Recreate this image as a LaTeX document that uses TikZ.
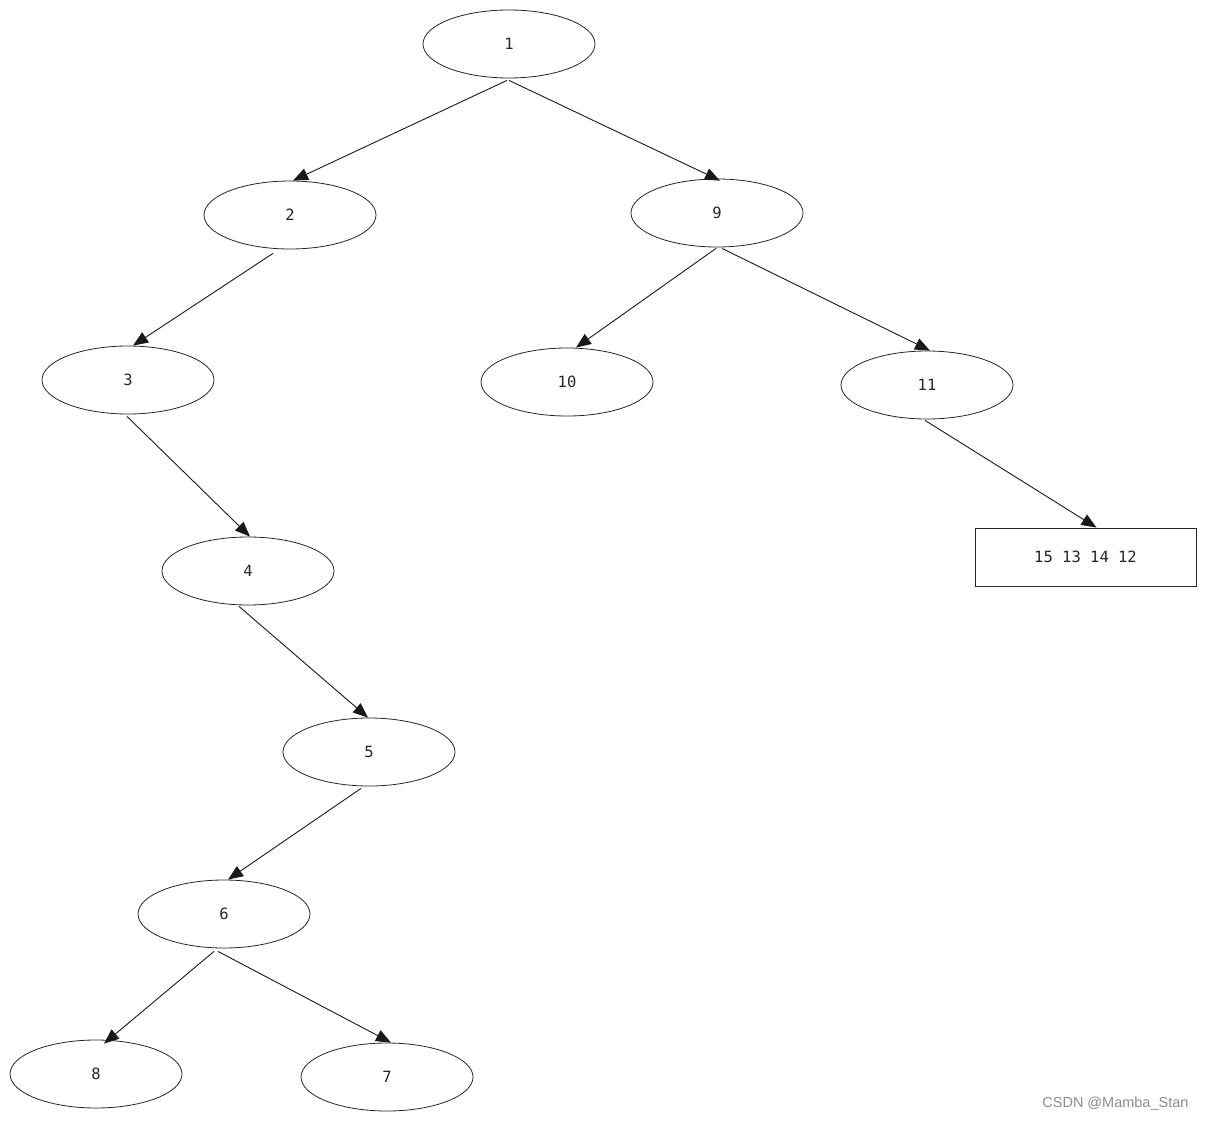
\documentclass[tikz,border=0pt]{standalone}
\usepackage{fontspec}
\setmonofont{DejaVu Sans Mono}
\newfontfamily\wmfont{Liberation Sans}
\usetikzlibrary{shapes.geometric,arrows.meta}
\begin{document}
\begin{tikzpicture}[x=1pt,y=-1pt,
  tnode/.style={ellipse,draw=black!85,line width=0.8pt,minimum width=172pt,minimum height=68pt,inner sep=0pt,font=\ttfamily\fontsize{15.5}{17}\selectfont,text=black!85},
  tbox/.style={rectangle,draw=black!85,line width=0.8pt,minimum width=221pt,minimum height=58pt,inner sep=0pt,font=\ttfamily\fontsize{15.5}{17}\selectfont,text=black!85},
  edge/.style={draw=black!90,line width=0.9pt,-{Triangle[length=15pt,width=12pt]}}]
\useasboundingbox (0,0) rectangle (1205,1121);
\node[tnode] (n1) at (509,44) {1};
\node[tnode] (n2) at (290,215) {2};
\node[tnode] (n9) at (717,213) {9};
\node[tnode] (n3) at (128,380) {3};
\node[tnode] (n10) at (567,382) {10};
\node[tnode] (n11) at (927,385) {11};
\node[tnode] (n4) at (248,571) {4};
\node[tnode] (n5) at (369,752) {5};
\node[tnode] (n6) at (224,914) {6};
\node[tnode] (n8) at (96,1074) {8};
\node[tnode] (n7) at (387,1077) {7};
\node[tbox] (nb) at (1085.5,557) {15 13 14 12};
\draw[edge] ([xshift=-2pt,yshift=-2pt]n1.south) -- ([xshift=3pt]n2.north);
\draw[edge] ([yshift=-2pt]n1.south) -- ([xshift=3pt,yshift=-2pt]n9.north);
\draw[edge] ([xshift=-17pt,yshift=-4pt]n2.south) -- ([xshift=5pt,yshift=0pt]n3.north);
\draw[edge] ([xshift=-1pt,yshift=-2pt]n3.south) -- ([xshift=2pt]n4.north);
\draw[edge] ([xshift=-9pt,yshift=-1pt]n4.south) -- ([xshift=-1pt]n5.north);
\draw[edge] ([xshift=-8pt,yshift=-2pt]n5.south) -- ([xshift=4pt]n6.north);
\draw[edge] ([xshift=-10pt,yshift=-3pt]n6.south) -- ([xshift=8pt,yshift=-4pt]n8.north);
\draw[edge] ([xshift=-6pt,yshift=-3pt]n6.south) -- ([xshift=4pt,yshift=0pt]n7.north);
\draw[edge] ([xshift=-1pt,yshift=-1pt]n9.south) -- ([xshift=9pt,yshift=0pt]n10.north);
\draw[edge] ([xshift=5pt,yshift=-1pt]n9.south) -- ([xshift=3pt,yshift=0pt]n11.north);
\draw[edge] ([xshift=-2pt,yshift=-1pt]n11.south) -- ([xshift=11pt]nb.north);
\node[font=\wmfont\fontsize{14.5}{16}\selectfont,text=black!45,anchor=east] (wm) at (1192,1104) {CSDN @Mamba\_Stan};
\end{tikzpicture}
\end{document}
